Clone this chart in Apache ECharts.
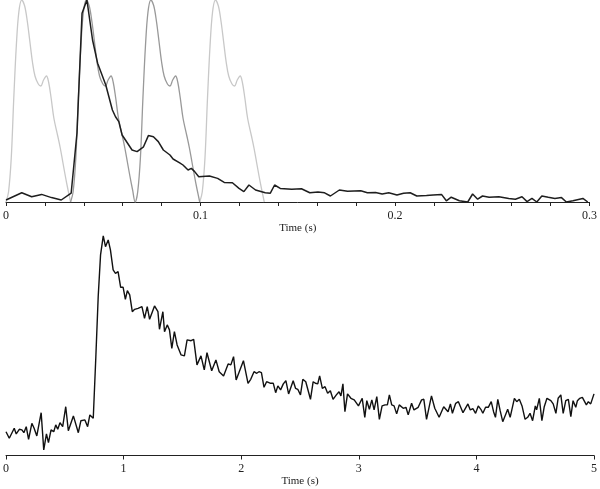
<!DOCTYPE html>
<html>
<head>
<meta charset="utf-8">
<script src="https://cdn.jsdelivr.net/npm/echarts@6/dist/echarts.min.js"></script>
<style>
  html, body { margin: 0; padding: 0; background: #fff; }
  #main { width: 600px; height: 489px; }
</style>
</head>
<body>
<div id="main"></div>
<script>
// one stimulus cycle (time within cycle, level)
var stimCycleT = [0, 0.0013, 0.0027, 0.0040, 0.0053, 0.0066, 0.0081, 0.0096, 0.0110, 0.0123, 0.0136, 0.0149,
  0.0166, 0.0179, 0.0193, 0.0208, 0.0219, 0.0232, 0.0246, 0.0266, 0.0279, 0.0292, 0.0305, 0.0319, 0.0332];
var stimCycleV = [0, 5, 22, 52, 78, 95, 101, 98, 90, 80, 70, 63,
  59, 58, 61, 63, 60, 52, 42, 33, 27, 20, 13, 6, 0];
var lightOnsets = [0, 0.0996];
var darkOnsets = [0.0332, 0.0664];

// top trace, 0 - 0.3 s
var fastT = [0, 0.0081, 0.0132, 0.0183, 0.0234, 0.0284, 0.0335, 0.0365, 0.0391, 0.0416, 0.0445, 0.0471, 0.0487,
  0.0513, 0.0547, 0.0563, 0.0580, 0.0597, 0.0648, 0.0674, 0.0707, 0.0732, 0.0758, 0.0783, 0.0809, 0.0843,
  0.0859, 0.0893, 0.0910, 0.0936, 0.0953, 0.0970, 0.0991, 0.1046, 0.1088, 0.1122, 0.1164, 0.1198, 0.1223,
  0.1249, 0.1283, 0.1333, 0.1359, 0.1381, 0.1410, 0.1469, 0.1519, 0.1562, 0.1604, 0.1638, 0.1668, 0.1714,
  0.1756, 0.1824, 0.1858, 0.1900, 0.1934, 0.1968, 0.2010, 0.2044, 0.2078, 0.2112, 0.2162, 0.2196, 0.2239,
  0.2264, 0.2289, 0.2331, 0.2374, 0.2399, 0.2425, 0.2450, 0.2484, 0.2534, 0.2585, 0.2619, 0.2653, 0.2679,
  0.2704, 0.2729, 0.2755, 0.2788, 0.2822, 0.2856, 0.2881, 0.2915, 0.2966, 0.2991];
var fastV = [1.0, 4.6, 2.6, 3.8, 2.2, 1.0, 4.4, 34.5, 94.4, 101, 81, 69.4, 65.2,
  58.5, 46, 42.6, 40.2, 33.5, 26, 25.2, 27.6, 33.2, 32.6, 30.2, 26, 23.5,
  21.5, 19.6, 18.5, 16, 16.8, 15.2, 12.6, 13, 11.8, 9.8, 9.6, 6.8, 5.2,
  8.5, 6, 4.6, 4.4, 8.5, 6.8, 6.4, 6.6, 4.6, 5, 4.6, 3, 6,
  5.4, 5.6, 4.6, 4.8, 4, 4.6, 3.5, 4.4, 4.6, 3, 3.2, 3.5, 3.8,
  0.6, 2.4, 0.6, 0, 4, 1.4, 3, 2.4, 2.6, 1.8, 1.4, 2.6, 0.2,
  1.8, 0, 3, 2.4, 1.8, 2.2, 0, 0.6, 1.8, 0];

// bottom trace, 0 - 5 s
var slowT = [0, 0.028, 0.045, 0.070, 0.087, 0.113, 0.135, 0.152, 0.172, 0.192, 0.220, 0.239, 0.262, 0.299,
  0.321, 0.344, 0.361, 0.383, 0.406, 0.423, 0.440, 0.459, 0.482, 0.508, 0.530, 0.573, 0.615, 0.637, 0.671,
  0.694, 0.713, 0.742, 0.764, 0.784, 0.804, 0.827, 0.846, 0.869, 0.888, 0.911, 0.931, 0.953, 0.975, 0.996,
  1.015, 1.032, 1.052, 1.074, 1.094, 1.123, 1.156, 1.178, 1.201, 1.221, 1.263, 1.292, 1.305, 1.334, 1.348,
  1.371, 1.390, 1.410, 1.432, 1.455, 1.489, 1.517, 1.540, 1.574, 1.596, 1.624, 1.658, 1.686, 1.709, 1.749,
  1.785, 1.813, 1.850, 1.889, 1.912, 1.935, 1.957, 2.019, 2.058, 2.081, 2.109, 2.132, 2.151, 2.172, 2.194,
  2.216, 2.250, 2.273, 2.293, 2.312, 2.335, 2.358, 2.380, 2.403, 2.420, 2.442, 2.462, 2.481, 2.504, 2.524,
  2.549, 2.566, 2.589, 2.612, 2.631, 2.651, 2.667, 2.690, 2.713, 2.735, 2.758, 2.781, 2.809, 2.832, 2.848,
  2.865, 2.882, 2.904, 2.933, 2.961, 2.997, 3.029, 3.051, 3.068, 3.090, 3.111, 3.130, 3.153, 3.175, 3.198,
  3.223, 3.243, 3.260, 3.280, 3.300, 3.322, 3.344, 3.378, 3.401, 3.420, 3.449, 3.469, 3.505, 3.534, 3.553,
  3.576, 3.618, 3.646, 3.683, 3.722, 3.759, 3.779, 3.796, 3.824, 3.847, 3.886, 3.928, 3.948, 3.970, 3.993,
  4.016, 4.038, 4.055, 4.078, 4.101, 4.126, 4.146, 4.162, 4.182, 4.202, 4.224, 4.247, 4.266, 4.287, 4.323,
  4.343, 4.365, 4.388, 4.414, 4.436, 4.456, 4.478, 4.501, 4.512, 4.535, 4.557, 4.577, 4.600, 4.633, 4.653,
  4.676, 4.695, 4.718, 4.738, 4.760, 4.782, 4.803, 4.822, 4.845, 4.859, 4.879, 4.901, 4.915, 4.935, 4.952,
  4.972, 5.000];
var slowV = [11.9, 8.6, 9.1, 13.6, 10.8, 13.1, 12.8, 11.4, 14.4, 8.1, 16.1, 13.6, 9.8, 21.4,
  2.8, 10.8, 6.4, 12.8, 11.9, 15.3, 13.1, 16.4, 14.4, 24.4, 12.4, 19.8, 11.4, 17.4, 17.8,
  14.4, 20.3, 18.6, 49.4, 79.4, 100.3, 109.8, 104.4, 107.8, 102.8, 92.8, 91.1, 91.9, 84.1, 84.1,
  78.1, 82.4, 80.3, 71.9, 73.1, 73.6, 74.4, 68.6, 74.4, 68.1, 74.8, 71.9, 63.1, 71.9, 61.9,
  65.3, 62.8, 53.6, 61.9, 55.3, 50.3, 49.8, 57.8, 57.4, 58.1, 45.3, 49.8, 42.8, 51.4, 42.4,
  47.8, 41.9, 39.8, 45.8, 45.3, 49.4, 37.8, 47.4, 36.1, 38.1, 41.9, 41.1, 41.9, 41.4, 34.1,
  36.9, 36.1, 36.1, 31.4, 34.8, 32.8, 35.8, 37.4, 30.8, 31.1, 37.4, 33.6, 33.1, 30.3, 38.1,
  36.9, 37.4, 28.1, 36.9, 36.1, 35.8, 39.8, 33.6, 34.4, 31.1, 32.4, 28.1, 30.3, 31.9, 29.8,
  35.8, 21.9, 30.8, 28.6, 27.8, 24.8, 28.6, 19.1, 27.4, 23.1, 27.8, 22.8, 29.4, 18.1, 24.8,
  25.3, 25.3, 30.3, 25.3, 24.8, 20.8, 25.3, 23.6, 24.1, 20.3, 26.1, 22.8, 24.1, 27.8, 28.1,
  18.1, 29.8, 23.6, 19.1, 24.4, 21.9, 25.8, 21.1, 26.1, 26.9, 21.4, 25.8, 22.8, 23.4, 21.1,
  24.8, 23.1, 21.1, 24.1, 24.1, 26.9, 21.9, 19.1, 28.1, 22.4, 16.9, 20.3, 23.1, 19.1, 28.6,
  26.9, 28.1, 24.8, 18.1, 19.1, 21.1, 17.4, 24.8, 22.8, 28.6, 17.4, 24.4, 28.6, 27.4, 25.8,
  21.1, 28.6, 30.3, 21.1, 27.4, 28.1, 19.4, 27.4, 24.1, 27.4, 28.6, 29.1, 28.6, 25.3, 26.9,
  25.8, 30.8];

var fastTicks = [0, 0.1, 0.2, 0.3];
var slowTicks = [0, 1, 2, 3, 4, 5];

function pairs(xs, ys) {
  return xs.map(function (x, i) { return [x, ys[i]]; });
}
function cycleAt(onset) {
  return stimCycleT.map(function (t, i) { return [onset + t, stimCycleV[i]]; });
}

var font = 'Liberation Serif';
function timeAxis(idx, max, interval, margin) {
  return {
    gridIndex: idx, type: 'value', min: 0, max: max, interval: interval,
    name: 'Time (s)', nameLocation: 'middle', nameGap: 20,
    nameTextStyle: { fontFamily: font, fontSize: 11, color: '#222' },
    axisLine: { lineStyle: { color: '#222', width: 1 } },
    axisTick: { length: 4, lineStyle: { color: '#222' } },
    splitLine: { show: false },
    axisLabel: {
      fontFamily: font, fontSize: 12, color: '#222', margin: margin,
      formatter: function (v) {
        var ticks = idx === 0 ? fastTicks : slowTicks;
        for (var i = 0; i < ticks.length; i++) {
          if (Math.abs(ticks[i] - v) < 1e-6) return String(ticks[i]);
        }
        return '';
      }
    }
  };
}

var myChart = echarts.init(document.getElementById('main'));
myChart.setOption({
  animation: false,
  backgroundColor: '#fff',
  grid: [
    { left: 4, width: 591, top: 0, height: 202 },
    { left: 4, width: 591, top: 235.5, height: 220 }
  ],
  xAxis: [
    timeAxis(0, 0.3, 0.02, 8),
    timeAxis(1, 5, 1, 7)
  ],
  yAxis: [
    { gridIndex: 0, type: 'value', min: 0, max: 101, show: false },
    { gridIndex: 1, type: 'value', min: 0, max: 110, show: false }
  ],
  series: [
    { type: 'line', xAxisIndex: 0, yAxisIndex: 0, data: cycleAt(lightOnsets[0]), smooth: 0.35,
      symbol: 'none', clip: false, lineStyle: { color: '#c8c8c8', width: 1.3 } },
    { type: 'line', xAxisIndex: 0, yAxisIndex: 0, data: cycleAt(lightOnsets[1]), smooth: 0.35,
      symbol: 'none', clip: false, lineStyle: { color: '#c8c8c8', width: 1.3 } },
    { type: 'line', xAxisIndex: 0, yAxisIndex: 0, data: cycleAt(darkOnsets[0]).concat(cycleAt(darkOnsets[1])),
      smooth: 0.35, symbol: 'none', clip: false, lineStyle: { color: '#999999', width: 1.3 } },
    { type: 'line', xAxisIndex: 0, yAxisIndex: 0, data: pairs(fastT, fastV),
      symbol: 'none', clip: false, lineStyle: { color: '#1e1e1e', width: 1.5 } },
    { type: 'line', xAxisIndex: 1, yAxisIndex: 1, data: pairs(slowT, slowV),
      symbol: 'none', clip: false, lineStyle: { color: '#111', width: 1.4 } }
  ]
});
</script>
</body>
</html>
